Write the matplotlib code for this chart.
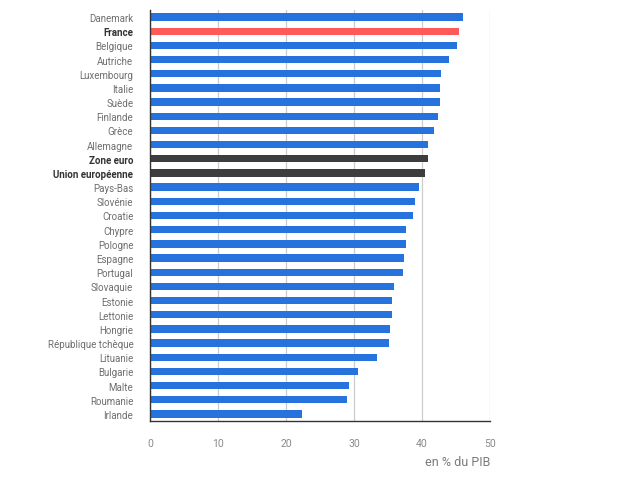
import matplotlib
matplotlib.use("Agg")
import matplotlib.pyplot as plt

plt.rcParams['font.family'] = ['Roboto', 'DejaVu Sans']

# recettes fiscales, en % du PIB
pays = ["Danemark", "France", "Belgique", "Autriche", "Luxembourg", "Italie",
        "Suède", "Finlande", "Grèce", "Allemagne", "Zone euro",
        "Union européenne", "Pays-Bas", "Slovénie", "Croatie", "Chypre",
        "Pologne", "Espagne", "Portugal", "Slovaquie", "Estonie", "Lettonie",
        "Hongrie", "République tchèque", "Lituanie", "Bulgarie", "Malte",
        "Roumanie", "Irlande"]
valeurs = [46.0, 45.4, 45.2, 43.9, 42.8, 42.7, 42.6, 42.3, 41.7, 40.9, 40.9,
           40.5, 39.5, 38.9, 38.7, 37.7, 37.7, 37.4, 37.2, 35.9, 35.6, 35.6,
           35.3, 35.2, 33.4, 30.6, 29.3, 28.9, 22.4]
en_gras = ["France", "Zone euro", "Union européenne"]
xticks = [0, 10, 20, 30, 40, 50]

blue = "#2673de"
red = "#ff5a5a"
dark = "#3d3d3d"
couleurs = []
for p in pays:
    if p == "France":
        couleurs.append(red)
    elif p in ("Zone euro", "Union européenne"):
        couleurs.append(dark)
    else:
        couleurs.append(blue)

fig = plt.figure(figsize=(6.4, 4.85), dpi=100)
ax = fig.add_axes([150/640, 1 - 422/485, 340/640, 411/485])

pos = list(range(len(pays)))
ax.barh(pos, valeurs, height=0.52, color=couleurs, zorder=3)

ax.set_ylim(len(pays) - 0.5, -0.5)
ax.set_xlim(0, 50)
ax.set_xticks(xticks)
ax.set_xticklabels([str(t) for t in xticks])
ax.set_yticks(pos)
ax.set_yticklabels(pays)

for lab in ax.get_yticklabels():
    if lab.get_text() in en_gras:
        lab.set_fontweight("bold")
        lab.set_color("#333333")
    else:
        lab.set_color("#6e6e6e")
    lab.set_fontsize(7)

ax.tick_params(axis="y", length=0, pad=12)
ax.tick_params(axis="x", length=0, pad=12, labelsize=7.5, labelcolor="#8a8a8a")

ax.grid(axis="x", color="#cccccc", linewidth=0.9, zorder=0)
for s in ["top", "right"]:
    ax.spines[s].set_visible(False)
ax.spines["left"].set_color("#333333")
ax.spines["left"].set_linewidth(1.0)
ax.spines["bottom"].set_color("#333333")
ax.spines["bottom"].set_linewidth(1.0)
ax.spines["left"].set_zorder(4)

ax.set_xlabel("en % du PIB", fontsize=9, color="#7a7a7a", loc="right", labelpad=5)

fig.savefig("out.png", dpi=100)
